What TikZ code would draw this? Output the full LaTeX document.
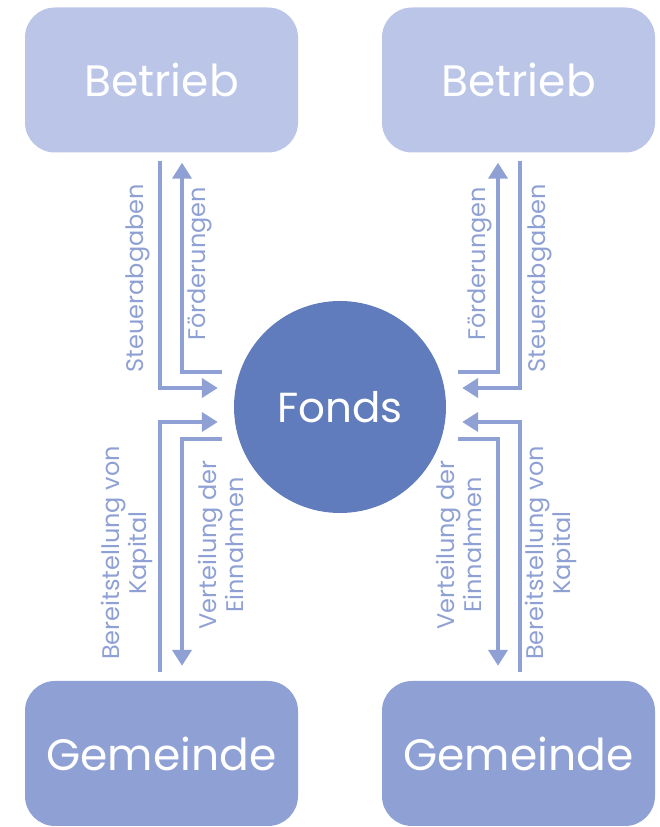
\documentclass[tikz,border=0pt]{standalone}
\usepackage{fontspec}
\setmainfont{Poppins}
\usepackage{tikz}
\usetikzlibrary{arrows.meta, positioning}

\definecolor{lightblue}{HTML}{BAC5E8}
\definecolor{midblue}{HTML}{8FA1D4}
\definecolor{darkblue}{HTML}{617CBC}

\begin{document}
\begin{tikzpicture}[
  x=1pt, y=1pt,
  box/.style={fill=#1, rounded corners=30pt, text=white, font=\fontsize{44}{52}\selectfont,
              minimum width=273pt, minimum height=145pt, inner sep=0pt},
  lbl/.style={rotate=90, text=midblue, align=center, font=\fontsize{24}{27}\selectfont, inner sep=0pt},
  arr/.style={-{Triangle[length=16pt, width=19pt]}, line width=4pt, midblue}
]
  \useasboundingbox (0,0) rectangle (660,827);

  \node[circle, fill=darkblue, minimum size=212pt, inner sep=0pt, text=white,
        font=\fontsize{42}{50}\selectfont] (fonds) at (340,420) {Fonds};

  \node[box=lightblue] (betriebL) at (161.5,747) {Betrieb};
  \node[box=lightblue] (betriebR) at (518.5,747) {Betrieb};
  \node[box=midblue] (gemeindeL) at (161.5,73.5) {Gemeinde};
  \node[box=midblue] (gemeindeR) at (518.5,73.5) {Gemeinde};

  % left side
  \draw[arr] ([xshift=-1.5pt, yshift=-8pt]betriebL.south) |- ([xshift=-16pt, yshift=19pt]fonds.west);
  \draw[arr] ([xshift=-12pt, yshift=35pt]fonds.west) -| ([xshift=20.5pt, yshift=-10pt]betriebL.south);
  \draw[arr] ([xshift=-1.5pt, yshift=9pt]gemeindeL.north) |- ([xshift=-16pt, yshift=-15pt]fonds.west);
  \draw[arr] ([xshift=-12pt, yshift=-32pt]fonds.west) -| ([xshift=20.5pt, yshift=15pt]gemeindeL.north);

  % right side
  \draw[arr] ([xshift=1.5pt, yshift=-8pt]betriebR.south) |- ([xshift=16pt, yshift=19pt]fonds.east);
  \draw[arr] ([xshift=12pt, yshift=35pt]fonds.east) -| ([xshift=-20.5pt, yshift=-10pt]betriebR.south);
  \draw[arr] ([xshift=1.5pt, yshift=9pt]gemeindeR.north) |- ([xshift=16pt, yshift=-15pt]fonds.east);
  \draw[arr] ([xshift=12pt, yshift=-32pt]fonds.east) -| ([xshift=-20.5pt, yshift=15pt]gemeindeR.north);

  \node[lbl] (steuerL) at (138,549) {Steuerabgaben};
  \node[lbl] (foerdL) at (200,563) {Förderungen};
  \node[lbl] (bereitL) at (127,274) {Bereitstellung von\\Kapital};
  \node[lbl] (verteilL) at (221,282) {Verteilung der\\Einnahmen};

  \node[lbl] (steuerR) at (540,549) {Steuerabgaben};
  \node[lbl] (foerdR) at (480,563) {Förderungen};
  \node[lbl] (bereitR) at (551,274) {Bereitstellung von\\Kapital};
  \node[lbl] (verteilR) at (459,282) {Verteilung der\\Einnahmen};
\end{tikzpicture}
\end{document}
